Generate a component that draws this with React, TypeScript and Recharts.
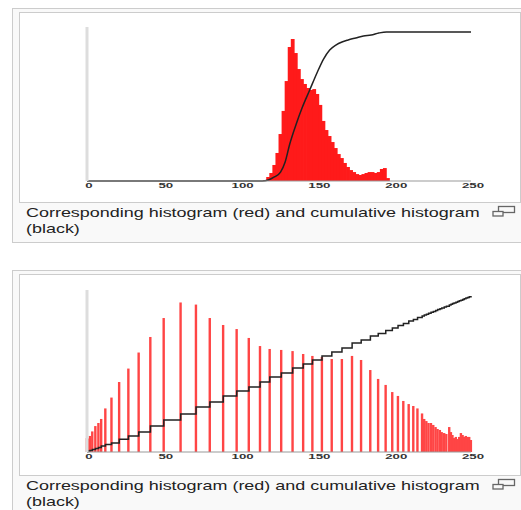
import { ComposedChart, Bar, Line, XAxis, YAxis } from 'recharts'

// original histogram (2-unit bins), values as % of the axis height
const topBinX = [114, 116, 118, 120, 122, 124, 126, 128, 130, 132, 134, 136, 138, 140, 142, 144, 146, 148, 150, 152, 154, 156, 158, 160, 162, 164, 166, 168, 170, 172, 174, 176, 178, 180, 182, 184, 186, 188, 190, 192, 194, 196]
const topBinCount = [0, 0.6, 2.6, 5.2, 10.4, 18.2, 30.5, 45.5, 64.9, 87.0, 92.2, 83.1, 72.7, 66.2, 63.0, 60.4, 59.1, 59.7, 56.5, 49.4, 39.0, 33.1, 29.2, 25.3, 21.4, 17.5, 14.9, 11.7, 9.1, 7.1, 5.8, 4.5, 3.9, 4.5, 5.2, 5.8, 5.8, 5.2, 5.8, 7.8, 8.4, 1.9]

// original cumulative histogram
const topCumX = [0, 114, 118, 122, 126, 129, 132, 136, 140, 145, 150, 154, 158, 162, 166, 170, 175, 180, 185, 190, 195, 250]
const topCumY = [0, 0, 0.6, 2.6, 5.8, 12.3, 24.0, 36.4, 47.4, 59.1, 70.8, 79.2, 85.1, 88.3, 90.3, 91.6, 92.9, 94.2, 94.8, 96.1, 96.8, 96.8]

// equalized histogram: occupied grey levels, counts and cumulative
const eqX = [0, 1, 2, 3.5, 5.5, 7.5, 9.3, 12, 16, 21, 27, 33.7, 41.3, 50, 61, 71, 80, 88.7, 97.5, 105.4, 112.7, 119, 126.5, 133.9, 140.8, 146.8, 153, 159.4, 166, 172.6, 178.5, 184.5, 189.6, 194.5, 198.8, 202.5, 206, 209.5, 212.5, 215.2, 218.2, 219.6, 221, 222.4, 224, 225.5, 227, 228.3, 229.8, 231, 232.6, 234, 235.9, 237, 238, 239, 240.2, 241.3, 242.4, 243.5, 244.6, 245.6, 246.7, 247.8, 248.9, 250]
const eqCount = [8.6, 8.3, 9.9, 12.7, 16.0, 17.9, 20.4, 26.9, 33.6, 43.2, 51.5, 61.4, 71.0, 82.7, 92.3, 91.0, 82.7, 78.4, 75.9, 70.4, 65.4, 63.6, 63.0, 62.3, 60.5, 59.3, 58.6, 57.4, 57.4, 59.3, 56.8, 50.6, 45.1, 41.4, 37.0, 34.6, 31.5, 29.6, 28.4, 26.9, 23.8, 20.4, 19.1, 17.9, 17.9, 16.7, 15.4, 14.2, 13.6, 12.3, 11.7, 11.1, 15.4, 12.3, 10.5, 8.6, 9.3, 8.0, 9.3, 11.7, 10.5, 9.3, 9.9, 9.3, 9.3, 7.4]
const eqCum = [0.3, 0.6, 0.9, 1.5, 2.2, 2.8, 3.7, 4.6, 5.6, 7.8, 9.9, 12.3, 16.0, 19.8, 23.5, 27.8, 30.9, 34.6, 37.7, 40.1, 43.2, 46.3, 48.8, 51.9, 54.3, 56.8, 59.3, 61.7, 64.2, 67.3, 69.1, 71.6, 73.1, 75.0, 76.5, 78.1, 79.3, 80.9, 81.8, 83.0, 84.0, 84.5, 85.1, 85.6, 86.2, 86.8, 87.4, 87.9, 88.5, 88.9, 89.5, 90.0, 90.8, 91.2, 91.6, 92.0, 92.5, 92.9, 93.3, 93.7, 94.2, 94.6, 95.0, 95.4, 95.8, 96.3]

const xTicks = [0, 50, 100, 150, 200, 250]
const caption = 'Corresponding histogram (red) and cumulative histogram'
const captionTail = '(black)'

const topBars = topBinX.map((x, i) => ({ x, count: topBinCount[i] }))
const topCum = topCumX.map((x, i) => ({ x, cum: topCumY[i] }))
const eqBars = eqX.map((x, i) => ({ x, count: eqCount[i] }))
const eqCumData = eqX.map((x, i) => ({ x, cum: eqCum[i] }))

const StretchedTick = (props: any) => {
  const { x, y, payload } = props
  return (
    <g transform={`translate(${x + 2},${y + 7})`}>
      <text
        transform="scale(1.9,1)"
        textAnchor="middle"
        fontSize={7}
        fontWeight="bold"
        fontFamily="'Liberation Sans', Arial, sans-serif"
        fill="#333"
      >
        {payload.value}
      </text>
    </g>
  )
}

// recharts narrows bars to the smallest gap between x values, so draw them at a fixed width
const fixedWidthBar = (w: number) => (props: any) => {
  const { x, y, width, height, fill } = props
  if (!height || height <= 0) return <g />
  return <rect x={x + width / 2 - w / 2} y={y} width={w} height={height} fill={fill} />
}

function Histogram({ bars, cum, barWidth, barFill, lineType, top, height, marginTop, marginBottom }: any) {
  return (
    <div style={{ position: 'absolute', left: 0, top }}>
      <ComposedChart
        width={521}
        height={height}
        data={bars}
        margin={{ top: marginTop, right: 50, left: 85, bottom: marginBottom }}
      >
        <XAxis
          dataKey="x"
          type="number"
          domain={[0, 250]}
          ticks={xTicks}
          interval={0}
          height={12}
          tickSize={0}
          tickMargin={0}
          tickLine={false}
          axisLine={{ stroke: '#999', strokeWidth: 1.2 }}
          tick={<StretchedTick />}
        />
        <YAxis
          type="number"
          domain={[0, 100]}
          width={2}
          tick={false}
          tickLine={false}
          axisLine={{ stroke: '#ddd', strokeWidth: 3 }}
        />
        <Bar
          dataKey="count"
          fill={barFill}
          shape={fixedWidthBar(barWidth)}
          isAnimationActive={false}
        />
        <Line
          data={cum}
          dataKey="cum"
          type={lineType}
          stroke="#222"
          strokeWidth={1.5}
          dot={false}
          isAnimationActive={false}
        />
      </ComposedChart>
    </div>
  )
}

function Thumb({ top, frameHeight, boxHeight }: any) {
  return (
    <>
      <div
        style={{
          position: 'absolute',
          left: 12,
          top,
          width: 530,
          height: boxHeight,
          border: '1px solid #ccc',
          background: '#f9f9f9',
          boxSizing: 'border-box',
        }}
      />
      <div
        style={{
          position: 'absolute',
          left: 19,
          top: top + 4,
          width: 502,
          height: frameHeight,
          border: '1px solid #ccc',
          background: '#fff',
          boxSizing: 'border-box',
        }}
      />
      <div
        style={{
          position: 'absolute',
          left: 26,
          top: top + frameHeight + 6,
          fontFamily: "'Liberation Sans', Arial, sans-serif",
          fontSize: 13,
          lineHeight: '15.5px',
          color: '#222',
          whiteSpace: 'nowrap',
          transform: 'scaleX(1.38)',
          transformOrigin: 'left top',
        }}
      >
        <div>{caption}</div>
        <div>{captionTail}</div>
      </div>
      <svg
        width={26}
        height={13}
        style={{ position: 'absolute', left: 491, top: top + frameHeight + 6 }}
      >
        <rect x={7.5} y={1.5} width={16} height={6} fill="none" stroke="#666" strokeWidth={1.3} />
        <rect x={2} y={6.5} width={10} height={4.5} fill="#f9f9f9" stroke="#666" strokeWidth={1.3} />
      </svg>
    </>
  )
}

export default function App() {
  return (
    <div
      style={{
        position: 'absolute',
        left: 0,
        top: 0,
        width: 521,
        height: 510,
        overflow: 'hidden',
        background: '#fff',
      }}
    >
      <Thumb top={8} frameHeight={191} boxHeight={235} />
      <Thumb top={270} frameHeight={202} boxHeight={260} />
      <Histogram
        bars={topBars}
        cum={topCum}
        barWidth={3.8}
        barFill="#ff1a1a"
        lineType="monotone"
        top={0}
        height={200}
        marginTop={27}
        marginBottom={7}
      />
      <Histogram
        bars={eqBars}
        cum={eqCumData}
        barWidth={2.4}
        barFill="#ff4545"
        lineType="stepAfter"
        top={270}
        height={200}
        marginTop={20}
        marginBottom={6}
      />
    </div>
  )
}
